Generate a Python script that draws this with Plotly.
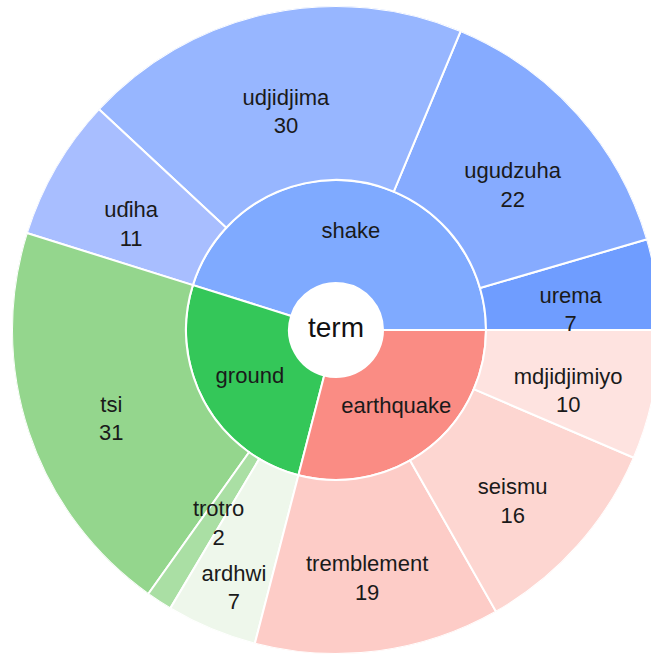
import numpy as np
import plotly.graph_objects as go

# ---- data ----
root_label = "term"
parent_terms = ["shake", "ground", "earthquake"]
shake_terms = ["urema", "ugudzuha", "udjidjima", "uɗiha"]
shake_counts = [7, 22, 30, 11]
ground_terms = ["tsi", "trotro", "ardhwi"]
ground_counts = [31, 2, 7]
earthquake_terms = ["tremblement", "seismu", "mdjidjimiyo"]
earthquake_counts = [19, 16, 10]

# ---- styles ----
parent_colors = ["#7FAAFF", "#34C759", "#FA8C84"]
child_colors = {
    "shake": ["#6F9DFF", "#86ABFF", "#97B6FF", "#A8BEFF"],
    "ground": ["#94D68D", "#AADFA4", "#EEF7EB"],
    "earthquake": ["#FDCCC7", "#FDD6D1", "#FEE3E0"],
}
R_ROOT, R_MID, R_OUT = 47, 150, 324   # radial units == pixels here
LABEL_DY = -15                          # outer labels sit a little low
label_radius_shift = {"ardhwi": 28, "trotro": -22}
FONT = "Liberation Sans, Arial, sans-serif"
TXT = "#1a1a1a"

children = {
    "shake": (shake_terms, shake_counts),
    "ground": (ground_terms, ground_counts),
    "earthquake": (earthquake_terms, earthquake_counts),
}

total = sum(sum(c) for _, c in children.values())
deg_per = 360.0 / total


def shifted(r, th, dy):
    x = r * np.cos(np.radians(th))
    y = r * np.sin(np.radians(th)) + dy
    return float(np.hypot(x, y)), float(np.degrees(np.arctan2(y, x)))


p_theta, p_width = [], []
c_theta, c_width, c_text, c_cols = [], [], [], []
l_r, l_th = [], []
start = 0.0
for p in parent_terms:
    terms, counts = children[p]
    w = sum(counts) * deg_per
    p_theta.append(start + w / 2)
    p_width.append(w)
    cs = start
    for t, v, col in zip(terms, counts, child_colors[p]):
        cw = v * deg_per
        mid = cs + cw / 2
        c_theta.append(mid)
        c_width.append(cw)
        c_text.append(f"{t}<br>{v}")
        c_cols.append(col)
        rr, tt = shifted((R_MID + R_OUT) / 2 + label_radius_shift.get(t, 0), mid, LABEL_DY)
        l_r.append(rr)
        l_th.append(tt)
        cs += cw
    start += w

fig = go.Figure()
fig.add_trace(go.Barpolar(
    theta=p_theta, width=p_width,
    r=[R_MID - R_ROOT] * len(p_theta), base=R_ROOT,
    marker=dict(color=parent_colors, line=dict(color="white", width=2)),
    hoverinfo="skip", showlegend=False,
))
fig.add_trace(go.Barpolar(
    theta=c_theta, width=c_width,
    r=[R_OUT - R_MID] * len(c_theta), base=R_MID,
    marker=dict(color=c_cols, line=dict(color="white", width=2)),
    hoverinfo="skip", showlegend=False,
))
fig.add_trace(go.Scatterpolar(
    theta=p_theta, r=[(R_ROOT + R_MID) / 2] * len(p_theta),
    mode="text", text=parent_terms, textposition="middle center",
    textfont=dict(family=FONT, size=22, color=TXT),
    hoverinfo="skip", showlegend=False,
))
fig.add_trace(go.Scatterpolar(
    theta=l_th, r=l_r,
    mode="text", text=c_text, textposition="middle center",
    textfont=dict(family=FONT, size=22, color=TXT),
    hoverinfo="skip", showlegend=False,
))
fig.add_trace(go.Scatterpolar(
    theta=[0], r=[0], mode="text", text=[root_label],
    textposition="middle center",
    textfont=dict(family=FONT, size=28, color="#111111"),
    hoverinfo="skip", showlegend=False,
))

fig.update_layout(
    width=672, height=655,
    margin=dict(l=0, r=0, t=6, b=1),
    paper_bgcolor="white",
    polar=dict(
        bgcolor="white",
        domain=dict(x=[0, 1], y=[0, 1]),
        radialaxis=dict(visible=False, range=[0, R_OUT]),
        angularaxis=dict(visible=False, rotation=0, direction="counterclockwise"),
        bargap=0,
    ),
)

fig.write_html(
    "out.html",
    config={"displayModeBar": False},
    post_script="document.body.style.margin='0';document.body.style.overflow='hidden';",
)
